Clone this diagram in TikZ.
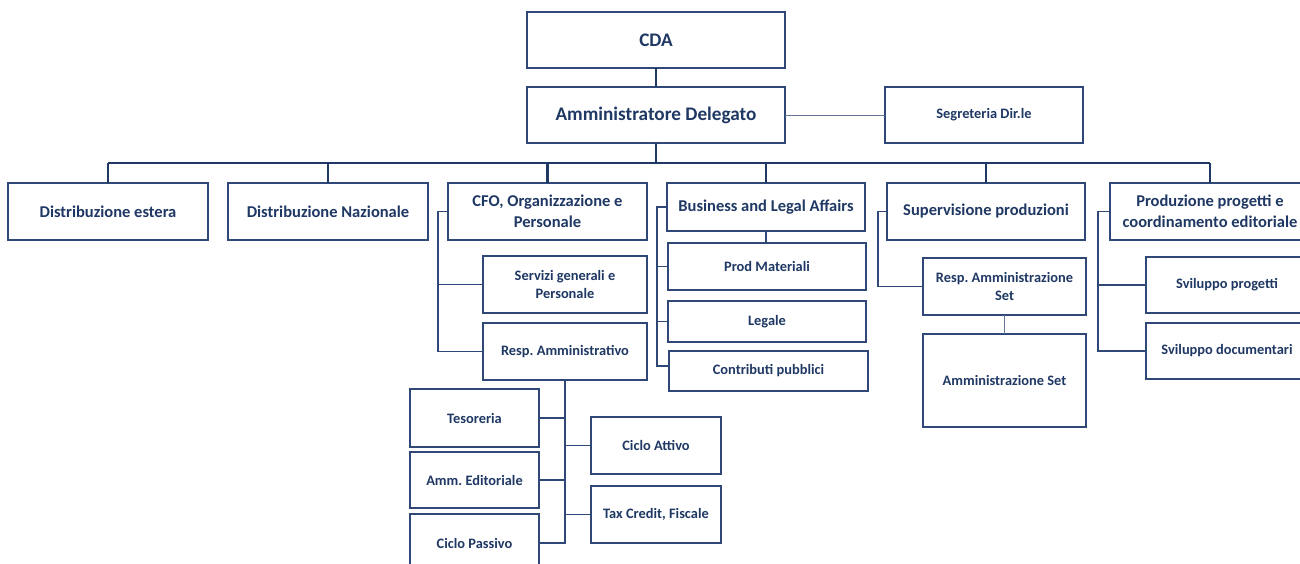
\documentclass[tikz,border=0pt]{standalone}
\usepackage{fontspec}
\setmainfont{Carlito}
\frenchspacing
\definecolor{navy}{RGB}{31,56,100}
\definecolor{edge}{RGB}{47,72,120}
\begin{document}
\begin{tikzpicture}[x=1pt,y=-1pt,
  box/.style={draw=edge, line width=1.5pt, text=navy, fill=white, align=center, inner sep=0pt, outer sep=0pt},
  dim/.style 2 args={minimum width=#1pt, minimum height=#2pt},
  toplevel/.style={font=\fontsize{19.2}{22}\selectfont\bfseries},
  midlevel/.style={font=\fontsize{16.5}{21}\selectfont\bfseries},
  sublevel/.style={font=\fontsize{14.4}{17.5}\selectfont\bfseries},
  bus/.style={draw=navy, line width=2.2pt},
  link/.style={draw=edge, line width=1.6pt},
  thinlink/.style={draw=edge!75, line width=0.9pt}]
\clip (0,0) rectangle (1300,564);
\fill[white] (0,0) rectangle (1300,564);

% top of the chart
\node[box,toplevel,dim={258}{56}] (cda) at (656,40) {CDA};
\node[box,toplevel,dim={258}{56}] (ad) at (656,115) {Amministratore Delegato};
\node[box,sublevel,dim={198}{56}] (seg) at (984,115) {Segreteria Dir.le};

% first-level departments
\node[box,midlevel,dim={200}{57}] (dest) at (108,211.5) {Distribuzione estera};
\node[box,midlevel,dim={200}{57}] (dnaz) at (328,211.5) {Distribuzione Nazionale};
\node[box,midlevel,dim={199}{57}] (cfo) at (547.5,211.5) {CFO, Organizzazione e\\Personale};
\node[box,midlevel,dim={198}{48}] (bla) at (766,207) {Business and Legal Affairs};
\node[box,midlevel,dim={198}{57}] (sup) at (986,211.5) {Supervisione produzioni};
\node[box,midlevel,dim={200}{57}] (prod) at (1210,211.5) {Produzione progetti e\\coordinamento editoriale};

% CFO area
\node[box,sublevel,dim={164}{57}] (serv) at (565,284.5) {Servizi generali e\\Personale};
\node[box,sublevel,dim={164}{57}] (resp) at (565,351.5) {Resp. Amministrativo};
\node[box,sublevel,dim={129}{58}] (tes) at (474.5,418) {Tesoreria};
\node[box,sublevel,dim={129}{56}] (amed) at (474.5,480) {Amm. Editoriale};
\node[box,sublevel,dim={129}{58}] (cpas) at (474.5,543) {Ciclo Passivo};
\node[box,sublevel,dim={130}{57}] (catt) at (656,445.5) {Ciclo Attivo};
\node[box,sublevel,dim={130}{57}] (tax) at (656,514.5) {Tax Credit, Fiscale};

% Business and Legal Affairs area
\node[box,sublevel,dim={198}{47}] (pm) at (767,266.5) {Prod Materiali};
\node[box,sublevel,dim={198}{41}] (leg) at (767,321.5) {Legale};
\node[box,sublevel,dim={199}{40}] (contr) at (768.5,371) {Contributi pubblici};

% Supervisione area
\node[box,sublevel,dim={163}{57}] (rset) at (1004.5,286.5) {Resp. Amministrazione\\Set};
\node[box,sublevel,dim={163}{93}] (aset) at (1004.5,380.5) {Amministrazione Set};

% Produzione area
\node[box,sublevel,dim={162}{56}] (svp) at (1227,285) {Sviluppo progetti};
\node[box,sublevel,dim={162}{56}] (svd) at (1227,351) {Sviluppo documentari};

% main bus
\coordinate (busL) at (0,163);
\draw[bus] (cda.south) -- (ad.north);
\draw[bus] (ad.south) -- (ad.south |- busL);
\draw[bus] (dest.north |- busL) -- (prod.north |- busL);
\foreach \n in {dest,dnaz,cfo,bla,sup,prod}
  \draw[bus] (\n.north) -- (\n.north |- busL);
\draw[thinlink] (ad.east) -- (seg.west);

% CFO spine
\coordinate (cfoS) at (438,0);
\draw[link] (cfo.west) -| (cfoS |- resp.west) -- (resp.west);
\draw[link] (serv.west) -- (cfoS |- serv.west);

% Resp. Amministrativo spine
\draw[link] (resp.south) -- (resp.south |- cpas.east) -- (cpas.east);
\foreach \n in {tes,amed}
  \draw[link] (\n.east) -- (resp.south |- \n.east);
\foreach \n in {catt,tax}
  \draw[link] (\n.west) -- (resp.south |- \n.west);

% Business spine
\coordinate (blaS) at (657,0);
\coordinate (contrIn) at ([yshift=5pt]contr.west);
\draw[link] (bla.west) -| (blaS |- contrIn) -- (contrIn);
\foreach \n in {pm,leg}
  \draw[link] (\n.west) -- (blaS |- \n.west);
\draw[link] (bla.south) -- (bla.south |- pm.north);

% Supervisione spine
\coordinate (supS) at (878,0);
\draw[link] (sup.west) -| (supS |- rset.west) -- (rset.west);
\draw[thinlink] (rset.south) -- (aset.north);

% Produzione spine
\coordinate (prS) at (1098,0);
\draw[link] (prod.west) -| (prS |- svd.west) -- (svd.west);
\draw[link] (svp.west) -- (prS |- svp.west);
\end{tikzpicture}
\end{document}
